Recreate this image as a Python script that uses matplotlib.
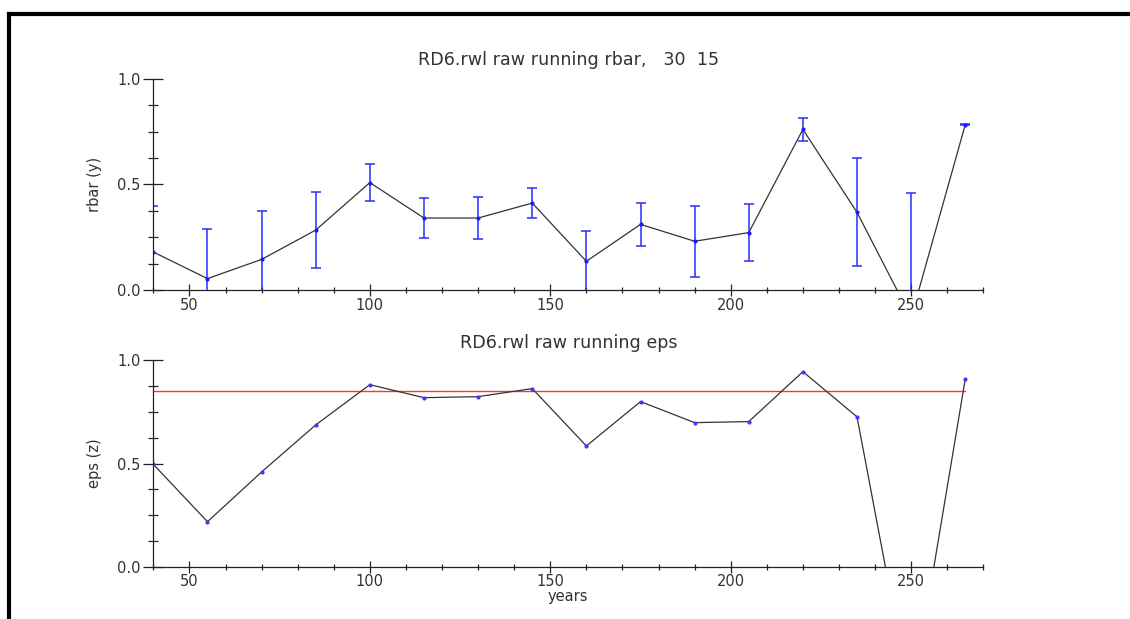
import matplotlib
matplotlib.use('Agg')
import matplotlib.pyplot as plt
from matplotlib.lines import Line2D
from matplotlib.ticker import MultipleLocator

# running statistics of RD6.rwl (window 30, lag 15)
years = [40, 55, 70, 85, 100, 115, 130, 145, 160, 175, 190, 205, 220, 235, 250, 265]
rbar = [0.18, 0.054, 0.145, 0.284, 0.509, 0.341, 0.341, 0.412, 0.136, 0.311,
        0.231, 0.272, 0.761, 0.368, -0.13, 0.784]
rbar_err = [0.22, 0.236, 0.229, 0.18, 0.086, 0.095, 0.101, 0.073, 0.144, 0.102,
            0.168, 0.136, 0.053, 0.256, 0.59, 0.004]
eps = [0.496, 0.218, 0.459, 0.687, 0.882, 0.819, 0.824, 0.863, 0.585, 0.800,
       0.698, 0.703, 0.945, 0.726, -0.66, 0.910]
eps_limit = 0.85

xticks = [50, 100, 150, 200, 250]
yticks = [0.0, 0.5, 1.0]

txt_col = '#333333'
plt.rcParams['font.family'] = 'DejaVu Sans'
plt.rcParams['font.size'] = 10.5

fig = plt.figure(figsize=(11.3, 6.19), dpi=100)
ax1 = fig.add_axes([0.1357, 0.5315, 0.7345, 0.3409])
ax2 = fig.add_axes([0.1357, 0.0845, 0.7345, 0.3334])


def style_axis(ax):
    ax.set_xlim(40, 270)
    ax.set_ylim(0, 1)
    ax.spines['top'].set_visible(False)
    ax.spines['right'].set_visible(False)
    for s in ['left', 'bottom']:
        ax.spines[s].set_linewidth(0.9)
        ax.spines[s].set_color('#222222')
    ax.set_xticks(xticks)
    ax.set_yticks(yticks)
    ax.set_yticklabels(['%.1f' % v for v in yticks])
    ax.xaxis.set_minor_locator(MultipleLocator(10))
    ax.yaxis.set_minor_locator(MultipleLocator(0.125))
    ax.tick_params(axis='x', which='major', direction='inout', length=9,
                   width=0.9, colors='#222222', labelcolor=txt_col, pad=1)
    ax.tick_params(axis='x', which='minor', direction='inout', length=5,
                   width=0.9, colors='#222222')
    ax.tick_params(axis='y', which='major', direction='inout', length=14,
                   width=0.9, colors='#222222', labelcolor=txt_col, pad=2)
    ax.tick_params(axis='y', which='minor', direction='inout', length=6.5,
                   width=0.9, colors='#222222')


# rbar with error bars
ax1.errorbar(years, rbar, yerr=rbar_err, fmt='none', ecolor='#2b2bff',
             elinewidth=1.1, capsize=3.6, capthick=1.1)
ax1.plot(years, rbar, color='#333333', lw=0.9)
ax1.plot(years, rbar, ls='none', marker='o', ms=2, color='#1a1aff')
style_axis(ax1)
ax1.set_ylabel('rbar (y)', color=txt_col, labelpad=11)
ax1.set_title('RD6.rwl raw running rbar,   30  15', color=txt_col, pad=10)

# eps with threshold line
ax2.plot([years[0], years[-1]], [eps_limit, eps_limit], color='#ff3333', lw=1)
ax2.plot(years, eps, color='#333333', lw=0.9)
ax2.plot(years, eps, ls='none', marker='o', ms=2, color='#3a3aff')
style_axis(ax2)
ax2.set_ylabel('eps (z)', color=txt_col, labelpad=11)
ax2.set_title('RD6.rwl raw running eps', color=txt_col, pad=9)
ax2.set_xlabel('years', color=txt_col, labelpad=0)

# black frame on top and left edge
fx = 9 / 1130
fy = 1 - 13.5 / 619
fig.add_artist(Line2D([fx, 1.0], [fy, fy], transform=fig.transFigure,
                      color='black', lw=3))
fig.add_artist(Line2D([fx, fx], [0.0, fy], transform=fig.transFigure,
                      color='black', lw=3))

fig.savefig('out.png', dpi=100)
